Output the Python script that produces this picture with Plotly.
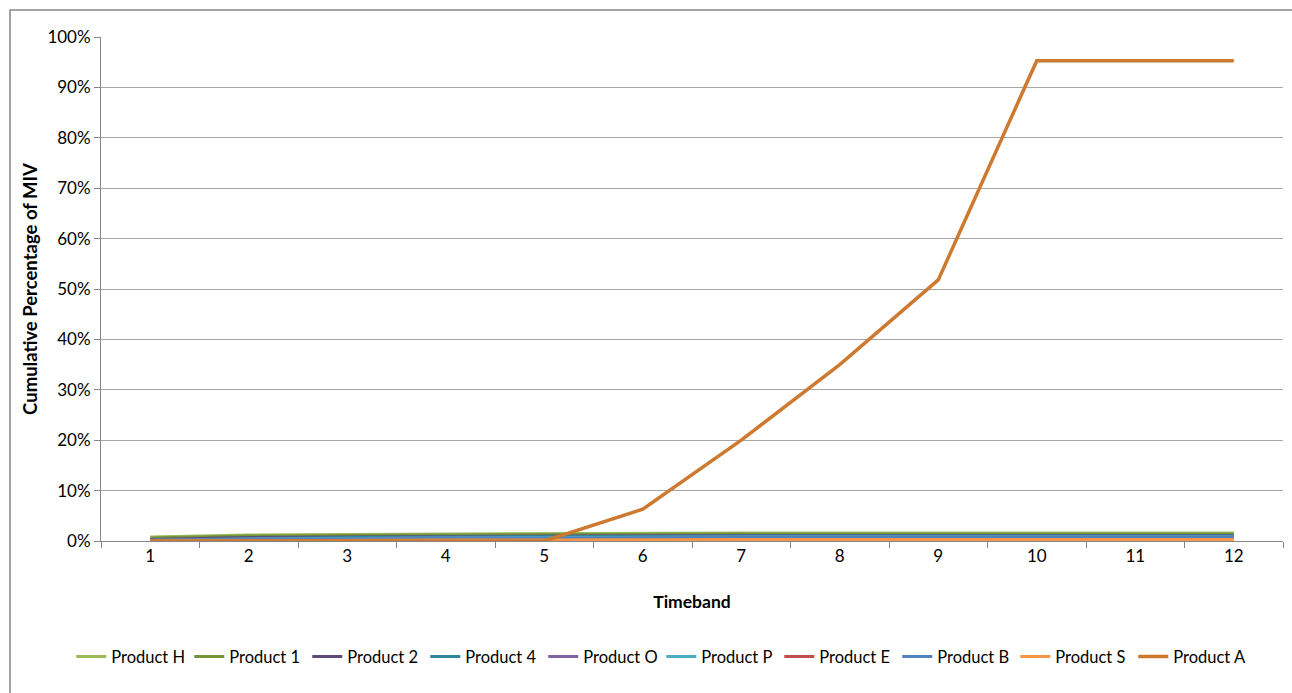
import plotly.graph_objects as go

# Timebands on the category axis
timebands = [str(i) for i in range(1, 13)]

# Cumulative share of MIV per product (fractions)
product_h = [0.008, 0.012, 0.013, 0.014, 0.015, 0.016, 0.016, 0.016, 0.016, 0.016, 0.016, 0.016]
product_1 = [0.006, 0.010, 0.011, 0.012, 0.013, 0.014, 0.014, 0.014, 0.014, 0.014, 0.014, 0.014]
product_2 = [0.003, 0.007, 0.008, 0.009, 0.010, 0.011, 0.011, 0.011, 0.011, 0.011, 0.011, 0.011]
product_4 = [0.002, 0.005, 0.007, 0.008, 0.009, 0.010, 0.010, 0.010, 0.010, 0.010, 0.010, 0.010]
product_o = [0.002, 0.004, 0.005, 0.006, 0.007, 0.008, 0.008, 0.008, 0.008, 0.008, 0.008, 0.008]
product_p = [0.001, 0.004, 0.005, 0.006, 0.007, 0.008, 0.008, 0.008, 0.008, 0.008, 0.008, 0.008]
product_e = [0.001, 0.002, 0.003, 0.004, 0.005, 0.006, 0.006, 0.006, 0.006, 0.006, 0.006, 0.006]
product_b = [0.001, 0.003, 0.004, 0.005, 0.006, 0.007, 0.007, 0.007, 0.007, 0.007, 0.007, 0.007]
product_s = [0.000, 0.001, 0.001, 0.002, 0.002, 0.003, 0.003, 0.003, 0.003, 0.003, 0.003, 0.003]
product_a = [0.000, 0.000, 0.000, 0.000, 0.000, 0.063, 0.200, 0.350, 0.518, 0.953, 0.953, 0.953]

series = [
    ("Product H", product_h, "#9BBB59"),
    ("Product 1", product_1, "#77933C"),
    ("Product 2", product_2, "#604A7B"),
    ("Product 4", product_4, "#31859C"),
    ("Product O", product_o, "#8064A2"),
    ("Product P", product_p, "#4BACC6"),
    ("Product E", product_e, "#C0504D"),
    ("Product B", product_b, "#4F81BD"),
    ("Product S", product_s, "#F79646"),
    ("Product A", product_a, "#CD7A30"),
]

FONT = "Lato, Carlito, Calibri, sans-serif"

fig = go.Figure()
for name, values, color in series:
    fig.add_trace(go.Scatter(
        x=timebands, y=values, name=name, mode="lines",
        line=dict(color=color, width=3.5 if name == "Product A" else 3),
    ))

fig.update_layout(
    width=1292, height=693,
    margin=dict(l=101, r=9, t=37, b=152, autoexpand=False),
    paper_bgcolor="white", plot_bgcolor="white",
    font=dict(family=FONT, size=17, color="#000000"),
    showlegend=True,
    legend=dict(
        orientation="h", x=0.474, xanchor="center", y=-0.195, yanchor="top",
        font=dict(family=FONT, size=16.5), itemwidth=30, tracegroupgap=0,
        entrywidth=73, entrywidthmode="pixels",
    ),
    xaxis=dict(
        type="category", tickson="boundaries", range=[-0.5, 11.5],
        ticks="outside", ticklen=6,
        tickcolor="#868686", showline=True, linecolor="#868686", linewidth=1,
        showgrid=False, tickfont=dict(family=FONT, size=17),
        title=dict(text="<b>Timeband</b>", font=dict(family=FONT, size=17.5), standoff=30),
    ),
    yaxis=dict(
        range=[0, 1], dtick=0.1, tickformat=".0%", ticks="outside", ticklen=6,
        tickcolor="#868686", showline=True, linecolor="#868686", linewidth=1,
        showgrid=True, gridcolor="#A6A6A6", gridwidth=1, zeroline=False,
        tickfont=dict(family=FONT, size=17),
        title=dict(text="<b>Cumulative Percentage of MIV</b>",
                   font=dict(family=FONT, size=18.5), standoff=4),
    ),
    shapes=[dict(
        type="rect", xref="paper", yref="paper",
        x0=-0.077, y0=-0.6, x1=1.2, y1=1.0536,
        line=dict(color="#868686", width=1.5), layer="below",
    )],
)

fig.write_html("out.html")
